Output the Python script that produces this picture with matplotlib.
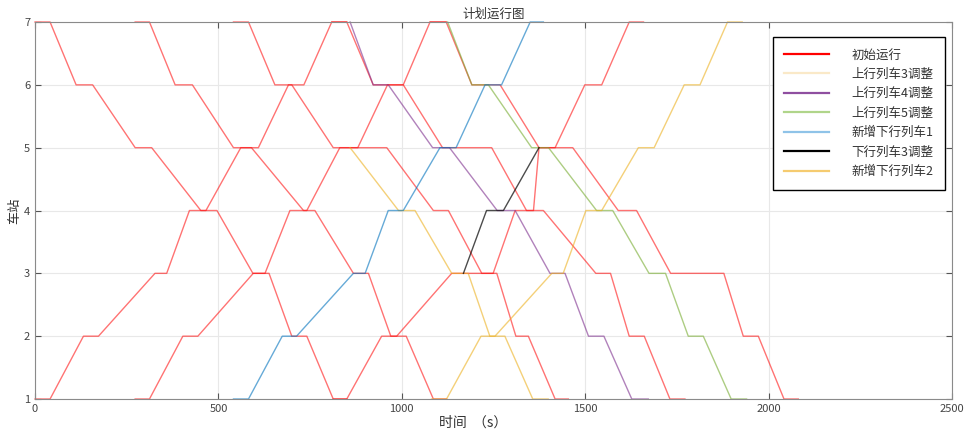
import matplotlib
matplotlib.use('Agg')
import matplotlib.pyplot as plt
from matplotlib.lines import Line2D

plt.rcParams['font.family'] = ['Noto Sans CJK SC', 'DejaVu Sans']

# 车站顺序：上行（7 -> 1）与下行（1 -> 7），每站到达、出发各一个时刻
up_dir_stations = [7, 7, 6, 6, 5, 5, 4, 4, 3, 3, 2, 2, 1, 1]
down_dir_stations = [1, 1, 2, 2, 3, 3, 4, 4, 5, 5, 6, 6, 7, 7]

# 初始运行图（秒）
up1_t = [0, 41, 112, 157, 273, 318, 452, 496, 594, 638, 700, 741, 813, 850]
up2_t = [273, 312, 382, 429, 541, 590, 732, 763, 868, 909, 970, 1012, 1086, 1122]
up3_t = [541, 582, 654, 700, 813, 959, 1086, 1127, 1218, 1259, 1311, 1345, 1418, 1454]
up4_t = [809, 850, 922, 1004, 1111, 1245, 1340, 1386, 1529, 1569, 1620, 1661, 1731, 1772]
up5_t = [1077, 1121, 1191, 1268, 1374, 1466, 1590, 1640, 1733, 1878, 1931, 1972, 2042, 2081]

down1_t = [0, 41, 132, 173, 327, 359, 421, 466, 561, 609, 691, 733, 809, 850]
down2_t = [273, 312, 403, 444, 595, 627, 695, 741, 831, 880, 961, 1004, 1077, 1121]
down3_t = [813, 850, 945, 986, 1136, 1249, 1309, 1359, 1374, 1418, 1499, 1545, 1620, 1659]

# 新增列车
new1_t = [541, 582, 674, 713, 868, 900, 963, 1004, 1104, 1148, 1227, 1272, 1350, 1386]
new2_t = [1081, 1122, 1216, 1254, 1409, 1440, 1502, 1545, 1645, 1688, 1770, 1813, 1888, 1928]

# 调整后的列车
adj_up3_s = [5, 4, 4, 3, 3, 2, 2, 1, 1]
adj_up3_t = [859, 991, 1036, 1136, 1181, 1240, 1281, 1357, 1399]
adj_up4_s = [7, 6, 6, 5, 5, 4, 4, 3, 3, 2, 2, 1, 1]
adj_up4_t = [859, 922, 963, 1084, 1130, 1260, 1309, 1404, 1445, 1509, 1551, 1627, 1672]
adj_up5_s = [7, 6, 6, 5, 5, 4, 4, 3, 3, 2, 2, 1, 1]
adj_up5_t = [1125, 1191, 1236, 1354, 1400, 1531, 1575, 1674, 1719, 1781, 1822, 1898, 1940]
adj_down3_s = [3, 4, 4, 5]
adj_down3_t = [1168, 1231, 1277, 1374]

labels = ['初始运行', '上行列车3调整', '上行列车4调整', '上行列车5调整',
          '新增下行列车1', '下行列车3调整', '新增下行列车2']

fig = plt.figure(figsize=(9.65, 4.34), dpi=100)
ax = fig.add_axes([0.0363, 0.0806, 0.9502, 0.8687])

lw = 1.0
for t in [up1_t, up2_t, up3_t, up4_t, up5_t]:
    ax.plot(t, up_dir_stations, color='red', lw=lw, alpha=0.55, clip_on=False)
for t in [down1_t, down2_t, down3_t]:
    ax.plot(t, down_dir_stations, color='red', lw=lw, alpha=0.55, clip_on=False)

ax.plot(adj_up3_t, adj_up3_s, color='#EDB120', lw=lw, alpha=0.6, clip_on=False)
ax.plot(adj_up4_t, adj_up4_s, color='#7E2F8E', lw=lw, alpha=0.6, clip_on=False)
ax.plot(adj_up5_t, adj_up5_s, color='#77AC30', lw=lw, alpha=0.6, clip_on=False)
ax.plot(new1_t, down_dir_stations, color='#0072BD', lw=lw, alpha=0.6, clip_on=False)
ax.plot(adj_down3_t, adj_down3_s, color='black', lw=lw, alpha=0.7, clip_on=False)
ax.plot(new2_t, down_dir_stations, color='#EDB120', lw=lw, alpha=0.6, clip_on=False)

ax.set_xlim(0, 2500)
ax.set_ylim(1, 7)
ax.set_xticks([0, 500, 1000, 1500, 2000, 2500])
ax.set_yticks([1, 2, 3, 4, 5, 6, 7])
ax.grid(True, color='#E8E8E8', lw=0.8)
ax.set_axisbelow(True)
ax.tick_params(direction='in', top=True, right=True, length=4,
               color='#555555', labelcolor='#444444', labelsize=8)
for sp in ax.spines.values():
    sp.set_color('#8A8A8A')
    sp.set_linewidth(0.8)

ax.set_title('计划运行图', fontsize=9, color='#333333', pad=3)
ax.set_xlabel('时间  （s）', fontsize=10, color='#333333', labelpad=2)
ax.xaxis.set_label_coords(0.478, -0.045, transform=ax.transAxes)
ax.set_ylabel('车站', fontsize=9.5, color='#333333', labelpad=2)

legend_colors = ['#FF0000', '#FAE9C8', '#8F4FA0', '#B0D58A', '#8FC3E8', '#000000', '#F5CB70']
handles = [Line2D([0], [0], color=c, lw=1.6) for c in legend_colors]
leg = ax.legend(handles, labels, loc='upper right', bbox_to_anchor=(0.9924, 0.960),
                borderaxespad=0, fontsize=9, handlelength=3.6, handletextpad=1.8,
                labelspacing=0.52, borderpad=0.9, fancybox=False, framealpha=1,
                edgecolor='black')
leg.get_frame().set_linewidth(1.0)
for txt in leg.get_texts():
    txt.set_color('#333333')

fig.savefig('out.png', dpi=100)
